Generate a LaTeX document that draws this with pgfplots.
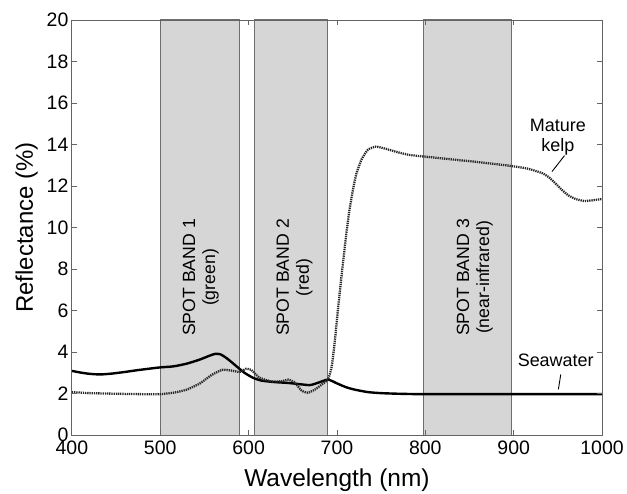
\documentclass[border=0pt]{standalone}
\usepackage{fontspec}
\setmainfont{Liberation Sans}
\usepackage{pgfplots}
\pgfplotsset{compat=1.18}
\definecolor{bandfill}{RGB}{214,214,214}
\definecolor{bandedge}{RGB}{110,110,110}
\definecolor{axisgray}{RGB}{100,100,100}
\definecolor{kelpcol}{RGB}{40,40,40}
\begin{document}
\begin{tikzpicture}
\begin{axis}[
  scale only axis,
  width=531pt, height=416pt,
  xmin=400, xmax=1000, ymin=0, ymax=20,
  xtick={400,500,...,1000}, ytick={0,2,...,20},
  /pgf/number format/assume math mode=true,
  /pgf/number format/1000 sep={},
  tick label style={font=\fontsize{19.5}{20}\selectfont},
  xticklabel style={yshift=-2.5pt},
  xlabel={Wavelength (nm)}, ylabel={Reflectance (\%)},
  xlabel style={font=\fontsize{24.5}{25}\selectfont, at={(axis description cs:0.5,0)}, anchor=base, yshift=-51pt, inner sep=0pt},
  ylabel style={font=\fontsize{24}{25}\selectfont, at={(axis description cs:0,0.5)}, anchor=base, yshift=39pt, inner sep=0pt},
  axis line style={axisgray, line width=0.9pt},
  tick style={axisgray, line width=0.8pt},
  major tick length=5pt,
  tick align=inside,
  axis on top,
  clip=true,
]
% bands
\addplot[fill=bandfill, draw=bandedge, line width=1pt] coordinates {(500,0)(500,20)(590,20)(590,0)} -- cycle;
\addplot[fill=bandfill, draw=bandedge, line width=1pt] coordinates {(607,0)(607,20)(689,20)(689,0)} -- cycle;
\addplot[fill=bandfill, draw=bandedge, line width=1pt] coordinates {(798,0)(798,20)(898,20)(898,0)} -- cycle;
% seawater
\addplot[black, line width=2.4pt, smooth, tension=0.4] coordinates {
(400,3.10)(410,3.02)(420,2.96)(432,2.93)(445,2.97)(460,3.05)(475,3.14)(490,3.22)(500,3.27)(515,3.32)(530,3.45)(545,3.65)(555,3.82)(562,3.92)(568,3.90)(575,3.72)(585,3.37)(595,3.02)(605,2.77)(615,2.63)(630,2.56)(645,2.52)(660,2.45)(670,2.42)(680,2.55)(690,2.68)(700,2.50)(710,2.32)(720,2.20)(735,2.08)(750,2.03)(770,2.00)(800,1.98)(900,1.98)(1000,1.98)};
% mature kelp
\addplot[kelpcol, line width=2.3pt, dash pattern=on 1.3pt off 0.9pt, smooth, tension=0.3] coordinates {
(400,2.08)(420,2.03)(450,2.00)(480,1.98)(500,1.98)(515,2.05)(530,2.20)(545,2.50)(558,2.90)(570,3.15)(580,3.12)(590,3.05)(597,3.20)(603,3.15)(612,2.78)(625,2.60)(637,2.60)(645,2.68)(652,2.55)(660,2.15)(667,2.05)(675,2.20)(683,2.45)(690,2.70)(694,3.30)(697,4.30)(701,6.00)(705,7.60)(710,9.50)(714,10.80)(718,11.80)(722,12.60)(728,13.30)(735,13.75)(744,13.90)(755,13.80)(767,13.65)(782,13.50)(797,13.43)(820,13.33)(850,13.20)(875,13.08)(895,12.98)(915,12.85)(932,12.63)(940,12.42)(948,12.10)(955,11.80)(962,11.55)(970,11.38)(980,11.28)(990,11.32)(1000,11.38)};
% band labels
\node[rotate=90, align=center, font=\fontsize{17.7}{20}\selectfont] at (axis cs:546,7.6) {SPOT BAND 1\\(green)};
\node[rotate=90, align=center, font=\fontsize{17.7}{20}\selectfont] at (axis cs:652,7.6) {SPOT BAND 2\\(red)};
\node[rotate=90, align=center, font=\fontsize{17.7}{20}\selectfont] at (axis cs:856,7.6) {SPOT BAND 3\\(near-infrared)};
% annotations
\node[align=center, font=\fontsize{18}{20}\selectfont] at (axis cs:950,14.37) {Mature\\kelp};
\draw[black, line width=0.9pt] (axis cs:957.6,13.47) -- (axis cs:943.4,12.70);
\node[font=\fontsize{18}{20}\selectfont] at (axis cs:947.6,3.6) {Seawater};
\draw[black, line width=0.9pt] (axis cs:953.3,2.93) -- (axis cs:950.6,2.21);
\end{axis}
\path ([shift={(-72pt,20pt)}]current axis.north west) -- ([shift={(24pt,-58pt)}]current axis.south east);
\end{tikzpicture}
\end{document}
